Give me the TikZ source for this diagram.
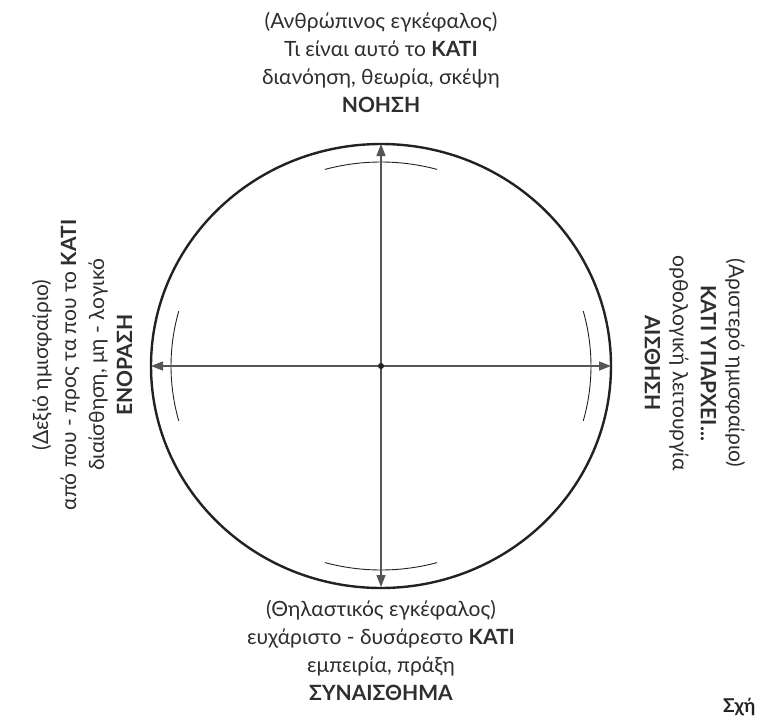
\documentclass[tikz,border=0pt]{standalone}
\usepackage{fontspec}
\setmainfont{Lato}
\usetikzlibrary{arrows.meta}
\definecolor{ink}{HTML}{222222}
\definecolor{axisgray}{HTML}{555555}
\definecolor{txt}{HTML}{2E2E2E}
\tikzset{
  rim/.style={draw=ink, line width=2.4pt},
  innerarc/.style={draw=ink, line width=0.9pt},
  axisline/.style={draw=axisgray, line width=1.3pt, -{Triangle[length=12pt,width=9pt]}},
  label/.style={text=txt, align=center, inner sep=0pt, font=\fontsize{21}{28}\selectfont}
}
\begin{document}
\begin{tikzpicture}[x=1pt,y=-1pt]
\useasboundingbox (0,0) rectangle (758,717);
\fill[white] (0,0) rectangle (758,717);
\coordinate (c) at (381,366);
\coordinate (top) at (381,144);
\coordinate (bot) at (381,587);
\coordinate (lft) at (151,366);
\coordinate (rgt) at (611,366);
\draw[rim] (c) ellipse [x radius=230, y radius=222];
% inner arcs
\draw[innerarc] (c) ++(-105.5:210 and 204) arc[start angle=-105.5, end angle=-74.5, x radius=210, y radius=204];
\draw[innerarc] (c) ++(74.5:210 and 204) arc[start angle=74.5, end angle=105.5, x radius=210, y radius=204];
\draw[innerarc] (c) ++(164.4:210 and 204) arc[start angle=164.4, end angle=195.6, x radius=210, y radius=204];
\draw[innerarc] (c) ++(-15.6:210 and 204) arc[start angle=-15.6, end angle=15.6, x radius=210, y radius=204];
% axes
\draw[axisline] (c) -- (top);
\draw[axisline] (c) -- (bot);
\draw[axisline] (c) -- (lft);
\draw[axisline] (c) -- (rgt);
\fill[ink] (c) circle[radius=3];
% labels
\node[label] (noesi) at (381,62) {(Ανθρώπινος εγκέφαλος)\\Τι είναι αυτό το \textbf{ΚΑΤΙ}\\διανόηση, θεωρία, σκέψη\\\textbf{ΝΟΗΣΗ}};
\node[label, rotate=90] (enorasi) at (82,365) {(Δεξιό ημισφαίριο)\\από που - προς τα που το \textbf{ΚΑΤΙ}\\διαίσθηση, μη - λογικό\\\textbf{ΕΝΟΡΑΣΗ}};
\node[label, rotate=-90] (aisthisi) at (695,363) {(Αριστερό ημισφαίριο)\\\textbf{ΚΑΤΙ ΥΠΑΡΧΕΙ...}\\ορθολογική λειτουργία\\\textbf{ΑΙΣΘΗΣΗ}};
\node[label] (synaisth) at (381,650) {(Θηλαστικός εγκέφαλος)\\ευχάριστο - δυσάρεστο \textbf{ΚΑΤΙ}\\εμπειρία, πράξη\\\textbf{ΣΥΝΑΙΣΘΗΜΑ}};
\node[text=ink, font=\bfseries\fontsize{19}{21}\selectfont, anchor=base west, inner sep=0pt] (sxima) at (723,712) {Σχή};
\end{tikzpicture}
\end{document}
